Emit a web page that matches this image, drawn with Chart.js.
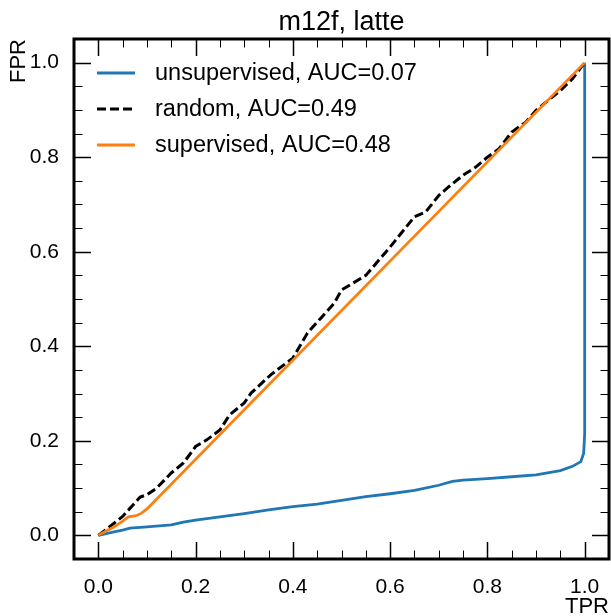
<!DOCTYPE html>
<html>
<head>
<meta charset="utf-8">
<script src="https://cdn.jsdelivr.net/npm/chart.js@4"></script>
<style>
    html, body { margin: 0; padding: 0; background: #ffffff; }
    #chart-box { width: 611px; height: 616px; }
</style>
</head>
<body>
<div id="chart-box"><canvas id="chart-canvas"></canvas></div>
<script>
// values
const tprUnsup = [0, 0.03, 0.05, 0.065, 0.1, 0.15, 0.175, 0.2, 0.25, 0.3, 0.35, 0.4, 0.45, 0.5, 0.55, 0.6, 0.65, 0.7, 0.728, 0.75, 0.8, 0.85, 0.9, 0.95, 0.975, 0.992, 0.998, 1.0, 1.0];
const fprUnsup = [0, 0.007, 0.011, 0.0155, 0.018, 0.022, 0.028, 0.032, 0.039, 0.046, 0.054, 0.061, 0.066, 0.074, 0.082, 0.088, 0.095, 0.106, 0.114, 0.117, 0.120, 0.124, 0.128, 0.137, 0.146, 0.156, 0.174, 0.216, 1.0];

const tprRandom = [0, 0.017, 0.05, 0.086, 0.1, 0.12, 0.15, 0.175, 0.2, 0.223, 0.25, 0.27, 0.3, 0.314, 0.355, 0.4, 0.43, 0.457, 0.485, 0.5, 0.55, 0.6, 0.65, 0.673, 0.7, 0.72, 0.75, 0.776, 0.8, 0.824, 0.85, 0.879, 0.9, 0.92, 0.95, 0.975, 1.0];
const fprRandom = [0, 0.013, 0.04, 0.081, 0.086, 0.1, 0.132, 0.153, 0.188, 0.202, 0.223, 0.255, 0.28, 0.301, 0.34, 0.375, 0.428, 0.459, 0.491, 0.519, 0.55, 0.61, 0.674, 0.684, 0.719, 0.737, 0.762, 0.779, 0.80, 0.818, 0.853, 0.874, 0.899, 0.916, 0.941, 0.966, 1.0];

const tprSup = [0, 0.017, 0.031, 0.05, 0.062, 0.079, 0.089, 0.1, 1.0];
const fprSup = [0, 0.01, 0.017, 0.03, 0.039, 0.042, 0.047, 0.056, 1.0];

const seriesNames = ["unsupervised, AUC=0.07", "random, AUC=0.49", "supervised, AUC=0.48"];
const majorTicks = [0, 0.2, 0.4, 0.6, 0.8, 1.0];
const minorTicks = [0.05, 0.1, 0.15, 0.25, 0.3, 0.35, 0.45, 0.5, 0.55, 0.65, 0.7, 0.75, 0.85, 0.9, 0.95];
const titleText = "m12f, latte";
const xLabel = "TPR";
const yLabel = "FPR";

const FONT = "'Liberation Sans', Arial, Helvetica, sans-serif";

function toPoints(xs, ys) {
    return xs.map(function(x, i) { return { x: x, y: ys[i] }; });
}

// frame, inward ticks on all four sides, title, axis labels and legend
const decorPlugin = {
    id: "decor",
    afterDraw: function(chart) {
        const ctx = chart.ctx;
        const area = chart.chartArea;
        const xs = chart.scales.x;
        const ys = chart.scales.y;
        ctx.save();

        ctx.strokeStyle = "#000000";
        function tick(x1, y1, x2, y2) {
            ctx.beginPath();
            ctx.moveTo(x1, y1);
            ctx.lineTo(x2, y2);
            ctx.stroke();
        }
        [[majorTicks, 17, 1.5], [minorTicks, 8.5, 1]].forEach(function(set) {
            ctx.lineWidth = set[2];
            set[0].forEach(function(v) {
                const px = Math.round(xs.getPixelForValue(v)) + 0.5;
                const py = Math.round(ys.getPixelForValue(v)) + 0.5;
                tick(px, area.bottom, px, area.bottom - set[1]);
                tick(px, area.top, px, area.top + set[1]);
                tick(area.left, py, area.left + set[1], py);
                tick(area.right, py, area.right - set[1], py);
            });
        });

        ctx.lineWidth = 3;
        ctx.strokeRect(area.left, area.top, area.right - area.left, area.bottom - area.top);

        ctx.fillStyle = "#000000";
        ctx.font = "27px " + FONT;
        ctx.textAlign = "center";
        ctx.textBaseline = "alphabetic";
        ctx.fillText(titleText, (area.left + area.right) / 2, 30);

        ctx.font = "22px " + FONT;
        ctx.textAlign = "right";
        ctx.fillText(xLabel, area.right, 613);

        ctx.save();
        ctx.translate(25, area.top);
        ctx.rotate(-Math.PI / 2);
        ctx.fillText(yLabel, 0, 0);
        ctx.restore();

        // legend
        ctx.font = "23.5px " + FONT;
        ctx.textAlign = "left";
        ctx.textBaseline = "middle";
        chart.data.datasets.forEach(function(ds, i) {
            const rowY = 73 + i * 36;
            ctx.strokeStyle = ds.borderColor;
            ctx.lineWidth = ds.borderWidth;
            ctx.setLineDash(ds.borderDash || []);
            tick(97, rowY, 135, rowY);
            ctx.setLineDash([]);
            ctx.fillStyle = "#000000";
            ctx.fillText(ds.label, 155, rowY + 1);
        });

        ctx.restore();
    }
};

document.addEventListener("DOMContentLoaded", function() {
    const chartCanvas = document.getElementById("chart-canvas");

    const axisCommon = {
        type: "linear",
        min: -0.05,
        max: 1.05,
        grid: { display: false },
        border: { display: false },
        afterBuildTicks: function(axis) {
            axis.ticks = majorTicks.map(function(v) { return { value: v }; });
        },
        ticks: {
            color: "#000000",
            font: { family: FONT, size: 21 },
            callback: function(value) { return Number(value).toFixed(1); }
        }
    };

    new Chart(chartCanvas, {
        type: "scatter",
        data: {
            datasets: [
                {
                    label: seriesNames[0],
                    data: toPoints(tprUnsup, fprUnsup),
                    borderColor: "#1f77b4",
                    borderWidth: 2.8,
                    order: 2
                },
                {
                    label: seriesNames[1],
                    data: toPoints(tprRandom, fprRandom),
                    borderColor: "#000000",
                    borderWidth: 3,
                    borderDash: [9, 4],
                    order: 1
                },
                {
                    label: seriesNames[2],
                    data: toPoints(tprSup, fprSup),
                    borderColor: "#ff7f0e",
                    borderWidth: 2.8,
                    order: 0
                }
            ]
        },
        options: {
            responsive: true,
            maintainAspectRatio: false,
            animation: false,
            showLine: true,
            elements: {
                point: { radius: 0, hoverRadius: 0 },
                line: { tension: 0, fill: false }
            },
            layout: { padding: { top: 39, right: 2, left: 0, bottom: 0 } },
            plugins: {
                legend: { display: false },
                title: { display: false },
                tooltip: { enabled: false }
            },
            scales: {
                x: Object.assign({}, axisCommon, {
                    position: "bottom",
                    afterFit: function(axis) { axis.height = 57; },
                    ticks: Object.assign({}, axisCommon.ticks, { padding: 8, maxRotation: 0 })
                }),
                y: Object.assign({}, axisCommon, {
                    position: "left",
                    afterFit: function(axis) { axis.width = 74; },
                    ticks: Object.assign({}, axisCommon.ticks, { padding: 7 })
                })
            }
        },
        plugins: [decorPlugin]
    });
});
</script>
</body>
</html>
